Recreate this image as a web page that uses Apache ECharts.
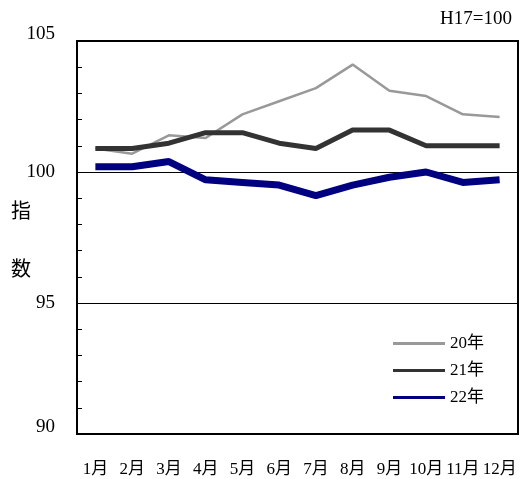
<!DOCTYPE html>
<html><head><meta charset="utf-8">
<script src="https://cdn.jsdelivr.net/npm/echarts@6/dist/echarts.min.js"></script>
<style>html,body{margin:0;padding:0;background:#fff}#c{width:520px;height:479px}</style>
</head><body><div id="c"></div>
<script>
const months = ['1月','2月','3月','4月','5月','6月','7月','8月','9月','10月','11月','12月'];
const s20 = [100.9,100.7,101.4,101.3,102.2,102.7,103.2,104.1,103.1,102.9,102.2,102.1];
const s21 = [100.9,100.9,101.1,101.5,101.5,101.1,100.9,101.6,101.6,101.0,101.0,101.0];
const s22 = [100.2,100.2,100.4,99.7,99.6,99.5,99.1,99.5,99.8,100.0,99.6,99.7];
const FONT = '"Liberation Serif","DejaVu Serif","Noto Sans CJK JP",serif';
const chart = echarts.init(document.getElementById('c'));
chart.setOption({
  animation:false,
  textStyle:{fontFamily:FONT},
  grid:{left:77,right:2,top:41,bottom:45,show:true,borderColor:'#000',borderWidth:2,backgroundColor:'transparent'},
  graphic:[
    {type:'text',right:8,top:10,style:{text:'H17=100',font:'19px '+FONT,fill:'#000'}},
    {type:'text',left:11,top:203,style:{text:'指',font:'20px '+FONT,fill:'#000'}},
    {type:'text',left:11,top:261,style:{text:'数',font:'20px '+FONT,fill:'#000'}}
  ],
  legend:{orient:'vertical',left:393,top:335,padding:0,itemWidth:52,itemHeight:3,itemGap:10,
    textStyle:{fontSize:17,color:'#000',fontFamily:FONT},
    data:[{name:'20年',icon:'rect'},{name:'21年',icon:'rect'},{name:'22年',icon:'rect'}]},
  xAxis:{type:'category',data:months,boundaryGap:true,
    axisLine:{lineStyle:{color:'#000',width:2}},
    axisTick:{inside:true,length:5,lineStyle:{color:'#000'}},
    axisLabel:{fontSize:17,color:'#000',margin:27,interval:0,fontFamily:FONT}},
  yAxis:{type:'value',min:90,max:105,interval:5,
    axisLine:{show:true,lineStyle:{color:'#000',width:2}},
    axisTick:{show:true,inside:true,length:5,lineStyle:{color:'#000'}},
    minorTick:{show:true,splitNumber:5,length:5,lineStyle:{color:'#000'}},
    splitLine:{show:true,lineStyle:{color:'#000',width:1}},
    axisLabel:{fontSize:19,color:'#000',margin:22,fontFamily:FONT,
      formatter:function(v){return (v===105||v===90)?'{e|'+v+'}':'{m|'+v+'}';},
      rich:{e:{fontSize:19,fontFamily:FONT,padding:[0,0,14,0]},m:{fontSize:19,fontFamily:FONT}}}},
  series:[
    {name:'20年',type:'line',data:s20,symbol:'none',lineStyle:{color:'#999999',width:2.5},itemStyle:{color:'#999999'}},
    {name:'21年',type:'line',data:s21,symbol:'none',lineStyle:{color:'#333333',width:5},itemStyle:{color:'#333333'}},
    {name:'22年',type:'line',data:s22,symbol:'none',lineStyle:{color:'#000080',width:7},itemStyle:{color:'#000080'}}
  ]
});
</script></body></html>
